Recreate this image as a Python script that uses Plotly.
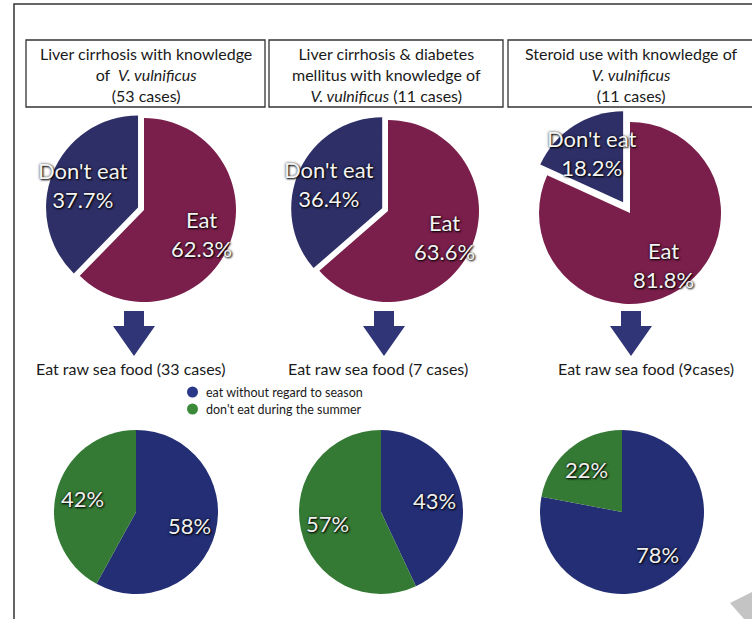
import math
import plotly.graph_objects as go

W, H = 752, 619

# ---------------- data ----------------
box_titles = [
    "Liver cirrhosis with knowledge<br>of  <i>V. vulnificus</i><br>(53 cases)",
    "Liver cirrhosis &amp; diabetes<br>mellitus with knowledge of<br><i>V. vulnificus</i> (11 cases)",
    "Steroid use with knowledge of<br><i>V. vulnificus</i><br>(11 cases)",
]
top_labels = ["Eat", "Don't eat"]
top_values_1 = [62.3, 37.7]
top_values_2 = [63.6, 36.4]
top_values_3 = [81.8, 18.2]
top_values = [top_values_1, top_values_2, top_values_3]

bottom_captions = [
    "Eat raw sea food (33 cases)",
    "Eat raw sea food (7 cases)",
    "Eat raw sea food (9cases)",
]
bottom_labels = ["eat without regard to season", "don't eat during the summer"]
bottom_values_1 = [58, 42]
bottom_values_2 = [43, 57]
bottom_values_3 = [78, 22]
bottom_values = [bottom_values_1, bottom_values_2, bottom_values_3]

# ---------------- styling / layout (pixels) ----------------
MAROON = "#7a1f4b"
NAVY = "#2e2f67"
BLUE = "#232e74"
GREEN = "#357a34"
ARROW = "#2f3577"
FONT = "Lato, 'Open Sans', sans-serif"

top_centers = [(144, 210), (388, 211), (630, 213)]
top_r = [92, 91, 91]
top_pull = [0.07, 0.07, 0.14]
bot_centers = [(136, 512), (381, 512), (622, 512)]
bot_r = 82
box_x = [(26, 265), (269, 503), (508, 760)]
box_y = (40, 107)
title_cx = [146, 386, 631]
caption_x = [130, 378, 646]
caption_y = 368
arrow_x = [134, 384, 631]


def px(x):
    return x / W


def py(y):
    return 1 - y / H


def domain(cx, cy, half):
    return dict(x=[px(cx - half), px(cx + half)], y=[py(cy + half), py(cy - half)])


def label_positions(values, cx, cy, r, pulls, fracs):
    total = float(sum(values))
    start = 0.0
    out = []
    for v, p, f in zip(values, pulls, fracs):
        mid = (start + v / 2.0) / total * 2 * math.pi
        rho = r * f + p * r
        out.append((cx + rho * math.sin(mid), cy - rho * math.cos(mid)))
        start += v
    return out


fig = go.Figure()
annotations = []
shapes = []
shadow = "1px 1px 2px #000, 0px 0px 3px rgba(0,0,0,0.7)"

# frame
shapes.append(dict(type="rect", xref="paper", yref="paper",
                   x0=px(14), x1=px(780), y0=py(640), y1=py(4),
                   line=dict(color="#333333", width=1.5)))

# title boxes
for (x0, x1), tcx, title in zip(box_x, title_cx, box_titles):
    shapes.append(dict(type="rect", xref="paper", yref="paper",
                       x0=px(x0), x1=px(x1), y0=py(box_y[1]), y1=py(box_y[0]),
                       line=dict(color="#333333", width=1.3)))
    annotations.append(dict(xref="paper", yref="paper", x=px(tcx), y=py((box_y[0] + box_y[1]) / 2 + 1),
                            text=title, showarrow=False, xanchor="center", yanchor="middle",
                            font=dict(family=FONT, size=16, color="#1a1a1a")))

# top pies
for i, vals in enumerate(top_values):
    cx, cy = top_centers[i]
    r = top_r[i]
    p = top_pull[i]
    fig.add_trace(go.Pie(
        values=vals, labels=top_labels, sort=False, direction="clockwise", rotation=0,
        pull=[0, p], marker=dict(colors=[MAROON, NAVY], line=dict(width=0)),
        textinfo="none", hoverinfo="label+percent", showlegend=False,
        domain=domain(cx, cy, r * (1 + p)),
    ))
    for (lx, ly), lab, v in zip(label_positions(vals, cx, cy, r, [0, p], [0.68, 0.64]),
                                top_labels, vals):
        annotations.append(dict(xref="paper", yref="paper", x=px(lx), y=py(ly),
                                text=f"{lab}<br>{v:.1f}%", showarrow=False,
                                xanchor="center", yanchor="middle",
                                font=dict(family=FONT, size=22, color="#f4f4f4", shadow=shadow)))

# arrows
for ax in arrow_x:
    pts = [(ax - 10, 311), (ax + 10, 311), (ax + 10, 326), (ax + 21, 326),
           (ax, 356), (ax - 21, 326), (ax - 10, 326)]
    path = "M " + " L ".join(f"{px(x):.5f},{py(y):.5f}" for x, y in pts) + " Z"
    shapes.append(dict(type="path", xref="paper", yref="paper", path=path,
                       fillcolor=ARROW, line=dict(width=0)))

# captions
for cx, cap in zip(caption_x, bottom_captions):
    annotations.append(dict(xref="paper", yref="paper", x=px(cx), y=py(caption_y),
                            text=cap, showarrow=False, xanchor="center", yanchor="middle",
                            font=dict(family=FONT, size=16, color="#1a1a1a")))

# legend (dots + text)
for lab, col, ly in zip(bottom_labels, ["#2a3888", "#3b8a3a"], [392, 409]):
    shapes.append(dict(type="circle", xref="paper", yref="paper",
                       x0=px(187), x1=px(198), y0=py(ly + 5.5), y1=py(ly - 5.5),
                       fillcolor=col, line=dict(width=0)))
    annotations.append(dict(xref="paper", yref="paper", x=px(204), y=py(ly),
                            text=lab, showarrow=False, xanchor="left", yanchor="middle",
                            font=dict(family=FONT, size=12.5, color="#1a1a1a")))

# bottom pies
for i, vals in enumerate(bottom_values):
    cx, cy = bot_centers[i]
    fig.add_trace(go.Pie(
        values=vals, labels=bottom_labels, sort=False, direction="clockwise", rotation=0,
        marker=dict(colors=[BLUE, GREEN], line=dict(width=0)),
        textinfo="none", hoverinfo="label+percent", showlegend=False,
        domain=domain(cx, cy, bot_r),
    ))
    for (lx, ly), v in zip(label_positions(vals, cx, cy, bot_r, [0, 0], [0.67, 0.67]), vals):
        annotations.append(dict(xref="paper", yref="paper", x=px(lx), y=py(ly),
                                text=f"{v:.0f}%", showarrow=False,
                                xanchor="center", yanchor="middle",
                                font=dict(family=FONT, size=22, color="#f0f0f0", shadow=shadow)))

# page-curl artifact
shapes.append(dict(type="path", xref="paper", yref="paper",
                   path=f"M {px(730)},{py(603)} L {px(752)},{py(592)} L {px(752)},{py(619)} L {px(744)},{py(619)} Z",
                   fillcolor="#c4c4c4", line=dict(width=0)))

fig.update_layout(
    width=W, height=H, margin=dict(l=0, r=0, t=0, b=0),
    paper_bgcolor="white", plot_bgcolor="white",
    shapes=shapes, annotations=annotations, showlegend=False,
)

fig.write_html("out.html")
